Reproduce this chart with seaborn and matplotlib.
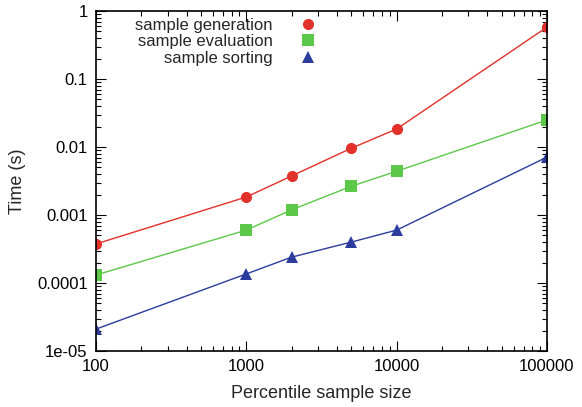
import matplotlib
matplotlib.use("Agg")
import matplotlib.pyplot as plt
import seaborn as sns
import pandas as pd
from matplotlib.lines import Line2D
from matplotlib.ticker import FixedLocator, FixedFormatter, LogLocator, NullFormatter

sizes = [100, 1000, 2000, 5000, 10000, 100000]
generation = [3.75e-4, 1.84e-3, 3.75e-3, 9.6e-3, 0.0184, 0.58]
evaluation = [1.31e-4, 6.0e-4, 1.19e-3, 2.65e-3, 4.4e-3, 0.025]
sorting = [2.1e-5, 1.36e-4, 2.4e-4, 4.0e-4, 6.0e-4, 7.1e-3]
series_names = ["sample generation", "sample evaluation", "sample sorting"]
x_ticks = [100, 1000, 10000, 100000]
x_tick_labels = ["100", "1000", "10000", "100000"]
y_ticks = [1e-5, 1e-4, 1e-3, 1e-2, 1e-1, 1]
y_tick_labels = ["1e-05", "0.0001", "0.001", "0.01", "0.1", "1"]

colors = {"sample generation": "#e2302a", "sample evaluation": "#5cc84a", "sample sorting": "#2b3c9c"}
markers = {"sample generation": "o", "sample evaluation": "s", "sample sorting": "^"}

df = pd.concat([
    pd.DataFrame({"size": sizes, "time": vals, "series": name})
    for name, vals in zip(series_names, [generation, evaluation, sorting])
])

sns.set_style("ticks")
plt.rcParams["font.family"] = ["Liberation Sans", "DejaVu Sans"]

fig = plt.figure(figsize=(5.82, 4.07), dpi=100)
ax = fig.add_axes([96/582, 1-351/407, (547-96)/582, (351-11)/407])

sns.lineplot(data=df, x="size", y="time", hue="series", style="series",
             palette=colors, markers=markers, dashes=False, linewidth=1.0,
             markersize=8, markeredgewidth=0, ax=ax, legend=False)

ax.set_xscale("log")
ax.set_yscale("log")
ax.set_xlim(100, 100000)
ax.set_ylim(1e-5, 1)
ax.xaxis.set_major_locator(FixedLocator(x_ticks))
ax.xaxis.set_major_formatter(FixedFormatter(x_tick_labels))
ax.yaxis.set_major_locator(FixedLocator(y_ticks))
ax.yaxis.set_major_formatter(FixedFormatter(y_tick_labels))
ax.xaxis.set_minor_locator(LogLocator(base=10, subs=range(2, 10)))
ax.yaxis.set_minor_locator(LogLocator(base=10, subs=range(2, 10)))
ax.xaxis.set_minor_formatter(NullFormatter())
ax.yaxis.set_minor_formatter(NullFormatter())
ax.tick_params(which="both", direction="in", top=True, right=True, labelsize=12, colors="black", width=0.8)
ax.tick_params(which="major", length=7, pad=6)
ax.tick_params(which="minor", length=3.5)
for s in ax.spines.values():
    s.set_linewidth(1.2)
    s.set_color("black")

ax.set_xlabel("Percentile sample size", fontsize=13, labelpad=8)
ax.set_ylabel("Time (s)", fontsize=13, labelpad=8)

handles = [Line2D([], [], linestyle="none", marker=markers[n], color=colors[n], markersize=8, markeredgewidth=0)
           for n in series_names]
ax.legend(handles, series_names, loc="upper left", bbox_to_anchor=(0.058, 1.02), frameon=False,
          markerfirst=False, fontsize=12, handlelength=1.0, handletextpad=1.6,
          labelspacing=0.1, borderpad=0.3)
leg = ax.get_legend()
for t in leg.get_texts():
    t.set_ha("right")
leg._legend_box.align = "right"

fig.savefig("out.png", dpi=100)
